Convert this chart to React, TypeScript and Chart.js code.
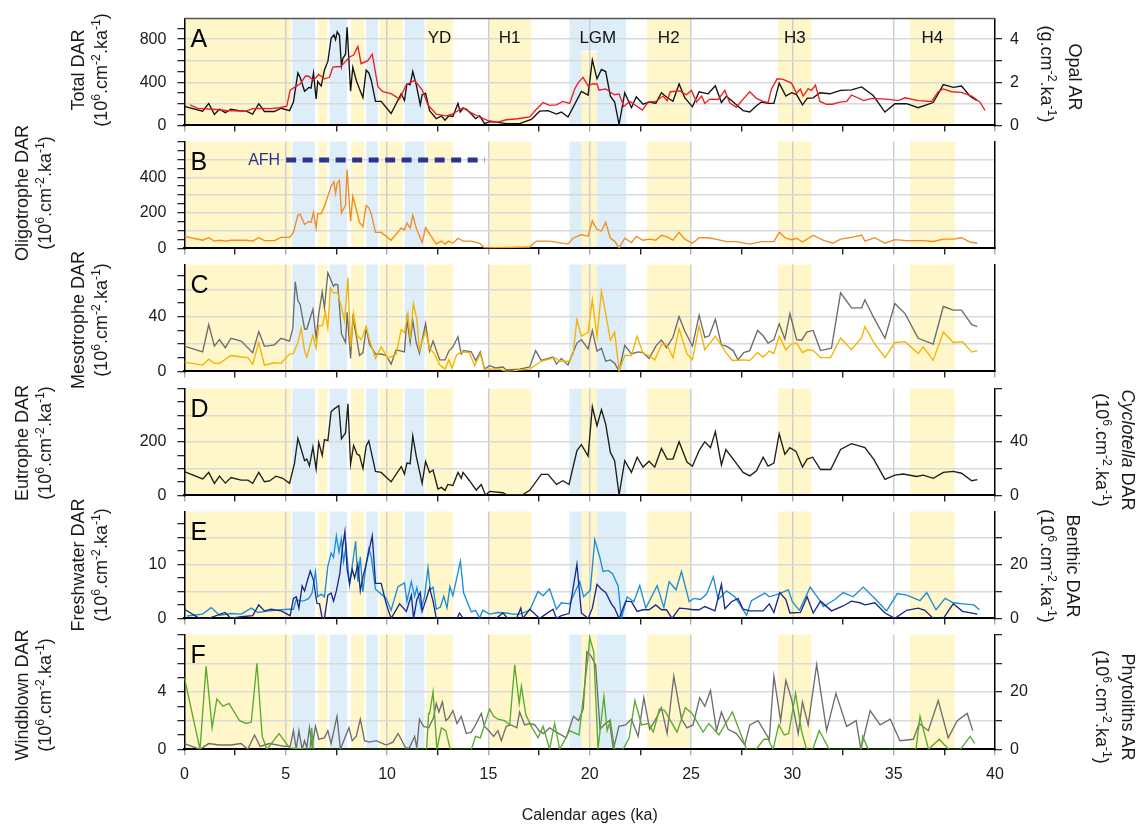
import React, { useEffect, useRef } from "react";
import { Chart, registerables } from "chart.js";

Chart.register(...registerables);

const FONT = '"Liberation Sans", Arial, Helvetica, sans-serif';
Chart.defaults.font.family = FONT;

type Pt = [number, number];

// ---------------- DATA (age in ka, value in axis units) ----------------
const TOTAL_DAR: Pt[] = [[0,177],[0.9,132],[1.2,204],[1.48,102],[1.73,150],[2.02,118],[2.3,150],[2.7,137],[3.05,132],[3.37,105],[3.67,201],[3.95,129],[4.44,129],[4.77,159],[5.19,137],[5.38,217],[5.6,486],[5.71,446],[5.93,317],[6.14,352],[6.25,346],[6.37,486],[6.5,245],[6.58,406],[6.75,365],[6.91,513],[7.08,593],[7.24,808],[7.38,840],[7.46,795],[7.54,867],[7.65,835],[7.75,553],[7.82,620],[7.95,660],[8.03,910],[8.2,317],[8.31,539],[8.48,419],[8.64,338],[8.81,258],[8.97,513],[9.1,486],[9.22,419],[9.43,223],[9.71,223],[10.2,110],[10.7,293],[10.86,231],[10.98,384],[11.14,378],[11.27,499],[11.44,378],[11.64,191],[11.73,285],[11.9,298],[12.1,137],[12.43,62],[12.68,89],[12.86,48],[13.05,89],[13.25,83],[13.5,204],[13.61,124],[13.75,159],[13.91,150],[14.16,105],[14.37,62],[14.57,89],[14.81,16],[15.06,35],[15.39,30],[15.88,16],[16.54,16],[17.12,56],[17.53,132],[17.94,137],[18.36,105],[18.6,124],[18.93,78],[19.59,314],[19.92,281],[20.13,607],[20.36,432],[20.58,518],[20.79,499],[21.02,271],[21.23,217],[21.45,8],[21.73,303],[22.06,164],[22.3,266],[22.63,196],[22.96,217],[23.26,204],[23.54,303],[23.82,258],[24.11,223],[24.41,384],[24.69,258],[25.07,172],[25.4,311],[25.84,293],[26.2,368],[26.5,212],[26.75,271],[27.24,191],[27.57,137],[27.9,124],[28.23,183],[28.48,217],[28.8,204],[29.09,204],[29.35,392],[29.68,271],[29.96,303],[30.21,285],[30.5,191],[30.73,250],[31.03,255],[31.36,303],[31.85,293],[32.38,325],[32.92,330],[33.42,357],[33.99,277],[34.57,124],[35.06,201],[35.64,201],[36.21,164],[36.95,212],[37.45,378],[37.94,352],[38.35,365],[38.77,271],[39.1,231]];

const OPAL_AR: Pt[] = [[0.28,0.95],[0.66,0.79],[1.4,0.75],[2.06,0.69],[2.72,0.66],[3.05,0.66],[3.37,0.78],[3.79,0.79],[4.28,0.78],[4.69,0.82],[5.05,0.89],[5.22,1.63],[5.43,1.76],[5.71,1.92],[5.98,2.29],[6.14,2.28],[6.37,2.09],[6.63,2.36],[6.91,2.16],[7.16,2.23],[7.33,2.7],[7.69,2.73],[7.82,2.83],[8.15,3.17],[8.35,3.26],[8.56,3.66],[8.72,2.86],[9.05,3.0],[9.27,3.3],[9.55,1.79],[9.79,1.56],[10.2,1.47],[10.62,1.22],[10.95,1.89],[11.36,2.09],[11.73,1.65],[12.02,0.95],[12.43,0.52],[12.92,0.44],[13.22,0.52],[13.75,0.82],[14.16,0.58],[14.57,0.39],[14.98,0.22],[15.47,0.15],[15.88,0.26],[16.46,0.31],[17.04,0.39],[17.37,0.75],[17.7,1.06],[18.02,0.93],[18.36,0.95],[18.68,1.11],[19.01,1.02],[19.26,1.69],[19.42,1.96],[19.67,2.23],[19.92,1.83],[20.13,1.92],[20.36,1.92],[20.46,1.63],[20.79,1.69],[20.99,1.56],[21.23,1.42],[21.45,1.46],[21.68,0.88],[21.98,1.11],[22.27,0.92],[22.6,0.71],[22.88,1.08],[23.26,1.11],[23.62,1.36],[23.82,1.15],[23.98,1.56],[24.44,1.6],[24.77,1.42],[25.02,1.62],[25.27,1.08],[25.52,1.36],[25.68,1.02],[25.93,1.22],[26.34,1.2],[26.67,1.62],[26.91,1.05],[27.24,0.84],[27.57,1.22],[27.9,1.56],[28.23,1.25],[28.56,1.11],[28.8,1.05],[28.97,1.69],[29.25,2.16],[29.55,2.13],[29.96,1.96],[30.21,1.49],[30.4,1.69],[30.53,1.36],[30.78,1.69],[30.94,1.62],[31.14,1.87],[31.36,1.11],[31.69,0.98],[31.97,0.98],[32.35,1.08],[32.68,1.11],[32.92,1.41],[33.53,1.15],[33.91,1.25],[34.65,1.22],[35.23,1.15],[35.56,1.28],[36.21,1.15],[36.87,1.11],[37.2,1.56],[37.45,1.69],[37.86,1.56],[38.35,1.53],[38.85,1.36],[39.26,1.08],[39.51,0.69]];

const OLIGOTROPHE_DAR: Pt[] = [[0,68],[0.9,46],[1.2,60],[1.48,41],[1.73,46],[2.02,41],[2.3,46],[3.05,46],[3.37,41],[3.67,60],[3.95,44],[4.44,44],[4.77,62],[5.19,62],[5.38,90],[5.6,187],[5.71,192],[5.93,134],[6.14,151],[6.25,146],[6.37,203],[6.5,114],[6.58,195],[6.75,195],[6.91,236],[7.08,293],[7.24,350],[7.38,374],[7.46,309],[7.54,366],[7.65,382],[7.75,199],[7.95,244],[8.03,442],[8.2,151],[8.31,293],[8.48,220],[8.64,146],[8.81,122],[8.97,241],[9.1,228],[9.22,195],[9.43,90],[9.71,90],[10.2,46],[10.7,114],[10.86,105],[10.98,143],[11.14,114],[11.27,187],[11.44,114],[11.73,33],[11.9,117],[12.1,81],[12.43,24],[12.68,41],[12.86,24],[13.05,41],[13.25,29],[13.5,57],[13.75,41],[14.16,41],[14.57,29],[14.81,3],[17.04,8],[17.37,41],[18.02,41],[18.93,24],[19.18,57],[19.59,78],[19.92,68],[20.13,155],[20.36,106],[20.58,98],[20.79,146],[21.02,57],[21.23,41],[21.45,3],[21.73,57],[22.06,33],[22.3,68],[22.63,46],[22.96,52],[23.26,46],[23.54,74],[23.82,65],[24.11,46],[24.41,90],[24.69,52],[25.07,29],[25.4,60],[25.84,60],[26.2,52],[26.75,38],[27.24,38],[27.9,24],[28.48,38],[29.09,38],[29.35,90],[29.68,57],[29.96,49],[30.21,57],[30.5,36],[31.03,74],[31.52,46],[32.0,29],[32.38,52],[32.92,62],[33.42,75],[33.58,41],[34.07,60],[34.57,29],[35.06,49],[35.64,44],[36.46,44],[36.95,39],[37.45,52],[37.94,52],[38.35,60],[38.77,36],[39.13,29]];

const MESOTROPHE_GREY: Pt[] = [[0,18.5],[0.9,14.3],[1.2,34.2],[1.48,18.5],[1.73,23.2],[2.02,17.3],[2.3,24.2],[2.8,22.1],[3.37,13.7],[3.67,29.1],[3.95,18.3],[4.44,19.4],[4.77,24.2],[5.19,22.1],[5.35,31.6],[5.47,65.4],[5.6,51.7],[5.71,48.9],[5.93,31],[6.04,31],[6.34,45.4],[6.5,24.2],[6.63,42.2],[6.8,58],[6.91,46.4],[7.08,72.1],[7.24,66.4],[7.36,62.2],[7.46,63.7],[7.57,63.3],[7.75,27.4],[7.95,21.1],[8.03,43.2],[8.2,9.5],[8.31,39],[8.48,26.4],[8.64,11.6],[8.81,13.7],[8.97,31.6],[9.13,20],[9.43,12.7],[9.71,12.7],[9.96,11.6],[10.2,5.3],[10.45,15.8],[10.86,14.3],[10.98,38],[11.14,21.1],[11.27,36.9],[11.44,21.1],[11.6,13.1],[11.9,34.8],[12.1,14.8],[12.27,22.1],[12.6,8.4],[12.86,8.4],[13.05,14.8],[13.25,17.9],[13.5,25.3],[13.66,12.7],[13.77,15.2],[14.16,14.3],[14.37,8],[14.6,14.3],[14.81,1.7],[15.06,4.2],[15.36,2.5],[15.72,3.2],[15.88,1.1],[16.54,1.7],[17.04,3.2],[17.33,15.2],[17.61,8],[18.19,10.5],[18.36,5.3],[18.6,9.5],[18.93,4.6],[19.37,20.7],[19.59,23.2],[19.92,16.4],[20.13,29.9],[20.36,14.8],[20.58,16.9],[20.79,7.4],[21.02,8.4],[21.23,5.9],[21.45,0.4],[21.73,19],[22.06,12.7],[22.39,14.3],[22.63,13.7],[22.93,9.5],[23.29,19],[23.54,22.8],[23.79,17.3],[24.11,24.9],[24.41,40],[24.69,29.5],[25.07,18.5],[25.4,41.1],[25.68,24.9],[25.9,26],[26.2,38],[26.5,19.4],[26.75,18.5],[27.08,15.2],[27.32,8.4],[27.6,13.7],[27.9,15.2],[28.28,29.9],[28.56,26],[28.8,20.7],[29.09,23.2],[29.35,34.8],[29.63,23.6],[29.88,42.2],[30.21,23.2],[30.46,22.8],[30.71,28.7],[31.03,29.9],[31.39,15.2],[31.93,16.9],[32.38,57.4],[32.92,46.4],[33.42,46.4],[33.58,52.3],[33.99,40],[34.57,24.2],[35.06,49.5],[35.56,42.2],[36.21,24.2],[36.95,20],[37.45,47.4],[37.94,44.7],[38.35,44.7],[38.85,34.2],[39.13,32.7]];

const MESOTROPHE_YELLOW: Pt[] = [[0,6.8],[0.9,4.6],[1.2,8.9],[1.48,5.9],[1.73,5.9],[2.3,11.6],[2.8,10.5],[3.13,10.1],[3.37,5.3],[3.67,21.1],[3.95,4.6],[4.44,6.3],[4.77,5.9],[5.19,12.7],[5.38,13.1],[5.6,21.1],[5.76,31.6],[5.93,14.8],[6.04,10.5],[6.34,26.4],[6.5,16.9],[6.63,33.3],[6.8,33.3],[6.96,43.2],[7.08,31.6],[7.2,61.2],[7.36,57.4],[7.57,57.4],[7.74,47.4],[7.9,36.9],[8.07,68.5],[8.2,17.9],[8.35,42.2],[8.52,26.4],[8.72,23.2],[8.97,32.7],[9.13,23.2],[9.43,9.5],[9.71,17.9],[10.04,9.5],[10.45,12.7],[10.7,30.6],[10.86,28.3],[11.03,42.2],[11.14,23.6],[11.3,49.5],[11.47,38],[11.6,15.2],[11.9,29.5],[12.1,16.9],[12.35,12.7],[12.6,4.6],[12.86,1.7],[13.05,8.4],[13.21,2.5],[13.42,11.6],[13.66,14.3],[14.07,13.7],[14.32,4.2],[14.6,12.7],[14.81,1.7],[15.56,1.7],[15.88,0],[16.21,0.4],[16.54,1.1],[17.04,1.7],[17.61,7.4],[18.27,10.1],[18.52,7.4],[18.98,7.4],[19.18,12.7],[19.37,38],[19.59,25.7],[19.92,28.5],[20.13,52.3],[20.36,25.3],[20.58,58.6],[20.79,42.2],[21.02,22.8],[21.23,28.7],[21.45,0.6],[21.73,11.6],[22.06,11.6],[22.34,25.7],[22.63,13.1],[22.93,11.6],[23.21,8.4],[23.54,19.4],[23.79,20],[24.11,10.1],[24.41,31.2],[24.8,12.7],[25.07,8.4],[25.4,33.3],[25.68,15.8],[26.2,25.7],[26.72,13.7],[27.04,8],[27.57,8.4],[27.9,8],[28.28,13.7],[28.56,10.5],[28.86,14.8],[29.09,13.1],[29.35,25.7],[29.68,15.8],[29.96,20],[30.21,20.7],[30.5,13.7],[30.78,15.8],[31.03,15.2],[31.39,10.1],[31.89,10.1],[32.38,24.2],[32.92,15.8],[33.42,24.9],[33.58,32.7],[34.07,20],[34.57,10.1],[35.06,21.1],[35.56,21.7],[36.21,13.1],[36.46,17.9],[36.95,8],[37.45,28.7],[37.94,21.1],[38.4,21.7],[38.85,14.1],[39.13,15.2]];

const EUTROPHE_DAR: Pt[] = [[0,89],[0.9,62],[1.2,86],[1.48,45],[1.73,72],[2.02,46],[2.3,67],[2.8,57],[3.13,57],[3.37,45],[3.67,86],[3.95,51],[4.2,54],[4.52,72],[4.85,64],[5.19,45],[5.43,119],[5.6,214],[5.71,187],[5.93,130],[6.04,136],[6.17,111],[6.34,181],[6.5,99],[6.63,198],[6.8,150],[6.91,209],[7.08,205],[7.24,314],[7.41,325],[7.62,336],[7.75,212],[7.95,234],[8.07,343],[8.2,117],[8.35,187],[8.52,154],[8.64,150],[8.81,101],[8.97,185],[9.1,204],[9.43,90],[9.71,86],[10.2,51],[10.7,108],[10.86,80],[10.98,121],[11.14,119],[11.27,223],[11.44,147],[11.73,45],[11.9,127],[12.1,86],[12.27,95],[12.51,24],[12.68,30],[12.86,19],[13,41],[13.25,37],[13.5,86],[13.66,64],[13.75,86],[14.07,55],[14.4,20],[14.65,41],[14.86,1],[15.06,15],[15.72,10],[15.88,3],[16.7,3],[17.04,19],[17.61,79],[17.94,79],[18.36,41],[18.68,55],[18.98,41],[19.37,168],[19.59,190],[19.92,147],[20.13,332],[20.36,261],[20.58,321],[20.79,267],[21.02,161],[21.23,130],[21.45,1],[21.73,130],[22.06,86],[22.34,143],[22.63,106],[22.93,128],[23.21,106],[23.54,176],[23.82,136],[24.11,136],[24.41,201],[24.8,125],[25.07,109],[25.4,168],[25.68,201],[25.96,179],[26.2,239],[26.5,114],[26.72,172],[27.08,136],[27.57,86],[27.9,73],[28.23,92],[28.56,143],[28.8,110],[29.09,121],[29.35,231],[29.63,154],[29.88,179],[30.18,165],[30.5,106],[30.73,136],[31,143],[31.39,97],[31.89,97],[32.38,172],[32.92,194],[33.58,179],[34.02,135],[34.57,60],[35.06,76],[35.47,80],[36.13,71],[36.46,76],[36.95,64],[37.45,86],[37.94,90],[38.35,83],[38.85,55],[39.13,59]];

const FRESHWATER_DAR: Pt[] = [[0.13,0.44],[0.9,0.8],[1.32,2.0],[1.73,0.6],[2.3,0.9],[2.8,0.8],[3.3,1.9],[3.63,1.1],[4.2,1.4],[4.77,1.6],[5.19,1.7],[5.38,1.7],[5.52,3.5],[5.71,3.2],[5.93,3.3],[6.14,3.7],[6.3,4.7],[6.47,8.7],[6.58,4.0],[6.75,4.5],[6.91,4.0],[7.08,9.7],[7.24,12.1],[7.36,11.3],[7.5,15.3],[7.63,12.3],[7.74,14.7],[7.85,10.5],[7.98,13.4],[8.15,6.2],[8.28,9.7],[8.45,14.3],[8.56,6.8],[8.68,11.4],[8.81,4.9],[8.97,10.2],[9.1,12.9],[9.22,11.5],[9.43,5.4],[9.71,4.5],[9.96,3.7],[10.2,1.5],[10.54,5.9],[10.86,6.6],[10.98,3.2],[11.2,6.8],[11.36,4.1],[11.47,5.7],[11.68,1.9],[11.85,4.0],[12.02,9.4],[12.14,5.3],[12.27,5.8],[12.43,1.7],[12.63,2.1],[12.8,4.1],[12.96,2.0],[13.1,5.9],[13.25,4.2],[13.62,10.6],[13.78,4.7],[14.16,1.2],[14.37,1.5],[14.57,0.1],[14.73,1.5],[15.06,0.8],[15.47,1.1],[15.88,1.0],[16.21,0.8],[16.54,0.8],[17.04,1.5],[17.45,5.0],[17.7,4.2],[18.02,5.5],[18.36,1.7],[18.6,2.9],[19.01,2.7],[19.51,6.8],[19.7,4.0],[20.03,5.2],[20.25,14.6],[20.5,11.3],[20.66,8.7],[20.91,8.9],[21.13,8.3],[21.4,6.0],[21.57,0.1],[21.85,4.0],[22.18,3.1],[22.47,6.1],[22.77,1.9],[23.33,6.1],[23.66,2.0],[23.92,6.8],[24.26,5.3],[24.53,8.7],[24.91,3.1],[25.14,3.7],[25.47,3.5],[25.77,4.5],[26.1,7.7],[26.34,3.5],[26.75,5.1],[27.16,4.0],[27.74,0.6],[27.98,3.3],[28.64,4.7],[28.86,4.0],[29.22,4.4],[29.8,5.3],[30.0,3.1],[30.35,1.5],[30.88,5.8],[31.36,3.3],[31.53,2.2],[32.1,3.5],[32.51,4.8],[33.0,4.0],[33.5,5.8],[34.12,3.5],[34.65,1.4],[35.18,4.6],[35.64,4.3],[36.3,3.3],[36.63,4.8],[37.09,1.6],[37.54,3.7],[37.94,2.9],[38.43,2.7],[38.96,2.5],[39.23,1.6]];

const BENTHIC_DAR: Pt[] = [[0,3.4],[0.74,0],[1.2,0],[2.0,2.2],[2.3,0],[2.8,0.6],[3.37,1.0],[3.67,5.0],[3.95,2.8],[4.28,3.4],[4.77,2.8],[5.22,1.0],[5.38,7.4],[5.52,8.0],[5.65,3.8],[5.81,12.0],[5.93,10.2],[6.04,13.2],[6.21,17.6],[6.37,14.2],[6.54,5.6],[6.67,5.4],[6.8,0],[6.91,0],[7.08,8.6],[7.24,9.4],[7.36,6.4],[7.5,10.2],[7.67,16.6],[7.8,26.2],[7.92,32.2],[8.03,18.2],[8.15,13.0],[8.28,18.2],[8.4,15.0],[8.56,20.0],[8.68,10.2],[8.81,15.4],[8.97,20.0],[9.13,25.8],[9.27,30.6],[9.43,13.0],[9.71,13.0],[9.96,5.4],[10.2,0],[10.62,5.4],[10.95,2.6],[11.2,8.6],[11.31,0],[11.47,7.0],[11.64,9.6],[11.73,2.6],[11.9,6.4],[12.1,11.2],[12.27,6.4],[12.43,0],[13.45,0],[13.58,2.0],[13.75,0],[15.39,0],[15.72,2.0],[15.96,0],[16.4,0.2],[16.6,3.8],[16.7,0],[17.04,3.4],[17.53,0],[18.19,3.4],[18.36,0],[18.6,1.0],[18.98,1.8],[19.37,20.0],[19.59,2.0],[19.92,0],[20.13,3.8],[20.36,12.6],[20.58,10.8],[20.79,9.6],[21.07,5.4],[21.23,3.8],[21.45,0],[21.78,6.4],[22.06,6.2],[22.34,2.6],[22.63,3.2],[22.93,3.2],[23.26,5.0],[23.54,3.2],[23.79,3.2],[24.06,0],[24.43,3.8],[24.72,3.6],[25.12,3.2],[25.4,3.2],[25.68,4.4],[26.18,2.8],[26.5,12.6],[26.67,3.6],[27.0,6.2],[27.32,7.4],[27.57,3.4],[27.9,2.8],[28.56,2.8],[28.86,5.4],[29.09,2.2],[29.38,9.6],[29.68,7.0],[29.88,2.0],[30.4,2.2],[30.73,8.0],[31.03,2.0],[31.39,6.4],[31.93,2.8],[32.51,4.6],[32.92,6.4],[33.33,5.8],[33.58,5.0],[34.07,5.8],[34.57,2.0],[35.06,0],[35.64,3.0],[36.21,3.8],[36.54,3.0],[36.95,0],[37.45,0],[37.94,5.4],[38.4,2.6],[39.13,1.6]];

const WINDBLOWN_DAR: Pt[] = [[0,5.0],[0.77,0],[1.07,5.8],[1.37,1.5],[1.6,3.5],[1.9,3.0],[2.2,3.2],[2.72,2.0],[3.05,1.8],[3.3,1.9],[3.58,6.0],[3.84,0.9],[4.07,0],[4.67,1.1],[5.19,0.1],[6.2,0],[6.28,1.5],[6.37,0],[11.95,0],[12.05,2.5],[12.1,2.5],[12.27,4.0],[12.46,0],[12.68,1.5],[12.9,1.3],[13.12,0],[14.16,0],[14.37,0.9],[14.6,0.8],[15.06,2.8],[15.26,2.3],[15.47,2.1],[15.8,2.0],[16.05,1.7],[16.3,5.9],[16.52,3.2],[16.63,4.4],[16.85,2.4],[17.12,1.6],[17.45,0.8],[17.7,1.6],[18.02,0],[18.27,1.8],[18.52,0],[19.01,1.3],[19.47,1.0],[19.7,3.8],[19.92,6.5],[20.0,7.8],[20.2,6.8],[20.41,0],[20.7,3.7],[20.86,1.3],[21.02,2.0],[21.23,0],[21.65,0],[21.95,0.8],[22.23,3.4],[22.56,1.7],[22.9,1.8],[23.14,1.2],[23.44,2.8],[23.7,2.7],[24.31,1.2],[24.72,2.9],[25.05,2.5],[25.6,1.2],[25.88,1.8],[26.38,1.0],[27.04,2.6],[27.74,0],[28.2,0],[28.6,0.7],[28.8,0.7],[29.05,0],[29.33,1.7],[29.6,1.0],[29.82,1.1],[30.16,3.9],[30.45,1.3],[30.7,0],[31.0,0],[31.33,1.3],[31.82,0],[33.4,0],[33.47,0.9],[33.75,0],[36.1,0],[36.3,2.3],[36.72,0],[37.25,0.7],[37.71,0],[38.3,0],[38.77,0.9],[39.0,0.4]];

const PHYTOLITHS_AR: Pt[] = [[0,2],[0.77,0],[1.2,2],[1.73,1.5],[2.3,1.5],[2.8,2],[3.13,0],[3.46,5],[3.74,1],[4.2,2],[4.94,1],[5.22,1],[5.38,6.5],[5.52,0],[5.65,6.5],[5.81,0],[5.93,3],[6.04,0.5],[6.17,7.5],[6.3,1],[6.47,8],[6.63,3.5],[6.91,4],[7.08,6.5],[7.24,2],[7.53,11.5],[7.7,0],[7.92,4],[8.12,7.5],[8.28,3],[8.48,4.5],[8.68,10.5],[8.89,3],[9.13,2.5],[9.46,3],[9.96,1.5],[10.29,2.5],[10.54,5.5],[10.7,3.5],[10.91,0.5],[11.1,0.5],[11.36,4.5],[11.47,0.5],[11.6,10.5],[11.8,8],[12.06,7.5],[12.29,11],[12.43,16],[12.56,13],[12.73,16.5],[12.9,10],[13.05,11],[13.25,13.5],[13.45,9],[13.66,11.5],[13.91,5.5],[14.16,6],[14.4,9],[14.65,12.5],[14.81,8],[15.02,6.5],[15.26,4.5],[15.47,6.5],[15.64,3],[15.88,8],[16.13,8.5],[16.4,7.5],[16.54,13],[16.79,8.5],[17.04,9],[17.29,8.5],[17.5,6.5],[17.73,5.5],[18.02,7.5],[18.36,6],[18.84,4],[19.2,11.5],[19.45,10],[19.68,14],[19.86,34],[20.07,32.5],[20.29,29.5],[20.51,7],[20.78,9],[20.97,10],[21.17,0],[21.44,8],[21.77,8.5],[22.06,10.5],[22.39,4.5],[22.67,18],[22.96,7],[23.26,10.5],[23.54,14.5],[23.82,5.5],[24.15,25.5],[24.53,10.5],[24.8,7.5],[25.1,8.5],[25.43,18],[25.68,15],[25.96,20.5],[26.26,6.5],[26.5,13],[26.83,7],[27.24,5.5],[27.65,1.5],[27.9,8.5],[28.31,10],[28.86,3.5],[29.09,25.5],[29.42,10],[29.68,24],[29.96,17.5],[30.29,5.5],[30.5,16.5],[30.78,8.5],[31.2,29.5],[31.69,6.5],[32.15,19.5],[32.68,8],[33.15,10],[33.38,0],[33.84,13.5],[34.33,8.5],[34.83,10.5],[35.31,3],[35.97,3.5],[36.26,9],[36.71,6.5],[37.2,17],[37.69,4],[38.14,10],[38.63,12.5],[38.9,6.5]];

// shaded periods (ka)
const YELLOW_BANDS: Pt[] = [[0,5.27],[6.58,7.05],[8.23,8.89],[9.63,10.78],[11.93,13.25],[14.98,17.12],[22.83,24.97],[29.3,30.94],[35.8,38.02]];
const BLUE_BANDS: Pt[] = [[5.32,6.45],[7.16,8.03],[8.97,9.55],[10.86,11.85],[19.0,21.8]];
const LGM_INNER: Pt = [19.6, 20.36];
const EVENT_NAMES = ["YD", "H1", "LGM", "H2", "H3", "H4"];
const EVENT_SPANS: Pt[] = [[11.93,13.25],[14.98,17.12],[19.0,21.8],[22.83,24.97],[29.3,30.94],[35.8,38.02]];
const AFH_SPAN: Pt = [5.02, 14.81];
const AFH_LEVEL = 496;

const X_MAX = 40;
const X_TICK_STEP = 2.5;
const X_LABEL_STEP = 5;

// ---------------- LAYOUT / STYLE ----------------
const PAGE_W = 1143;
const PAGE_H = 827;
const PLOT_LEFT = 184.4;
const PLOT_RIGHT = 995;
const PANEL_EDGES = [10.7, 133.7, 256.7, 380, 503.3, 626.7, 749.3];
const YELLOW = "#fff6c9";
const BLUE = "#ddeef9";
const CLEAR = "rgba(0,0,0,0)";
const TEXT = "#1a1a1a";

type AxisSpec = { max: number; tick: number; grid?: number; label: number };
type Series = { data: Pt[]; color: string; axis: "y" | "y2"; width?: number; dash?: number[] };
type PanelSpec = { letter: string; left: AxisSpec; right?: AxisSpec; series: Series[]; events?: boolean; afh?: boolean };

const PANELS: PanelSpec[] = [
  {
    letter: "A",
    left: { max: 990, tick: 100, grid: 200, label: 400 },
    right: { max: 4.95, tick: 1, label: 2 },
    series: [
      { data: OPAL_AR, color: "#ee1c24", axis: "y2" },
      { data: TOTAL_DAR, color: "#111111", axis: "y" },
    ],
    events: true,
  },
  {
    letter: "B",
    left: { max: 600, tick: 50, grid: 100, label: 200 },
    series: [
      { data: [[AFH_SPAN[0], AFH_LEVEL], [AFH_SPAN[1], AFH_LEVEL]], color: "#2b3590", axis: "y", width: 5, dash: [10, 6.5] },
      { data: OLIGOTROPHE_DAR, color: "#f28c1e", axis: "y" },
    ],
    afh: true,
  },
  {
    letter: "C",
    left: { max: 78, tick: 10, grid: 20, label: 40 },
    series: [
      { data: MESOTROPHE_YELLOW, color: "#f5b300", axis: "y" },
      { data: MESOTROPHE_GREY, color: "#6c6c6c", axis: "y" },
    ],
  },
  {
    letter: "D",
    left: { max: 400, tick: 50, grid: 100, label: 200 },
    right: { max: 80, tick: 20, label: 40 },
    series: [{ data: EUTROPHE_DAR, color: "#1f1f14", axis: "y" }],
  },
  {
    letter: "E",
    left: { max: 19.8, tick: 2.5, grid: 5, label: 10 },
    right: { max: 39.6, tick: 10, label: 20 },
    series: [
      { data: BENTHIC_DAR, color: "#1b2a8a", axis: "y2" },
      { data: FRESHWATER_DAR, color: "#1a8fd6", axis: "y" },
    ],
  },
  {
    letter: "F",
    left: { max: 8, tick: 1, grid: 2, label: 4 },
    right: { max: 40, tick: 10, label: 20 },
    series: [
      { data: WINDBLOWN_DAR, color: "#5aab2a", axis: "y" },
      { data: PHYTOLITHS_AR, color: "#6e6e6e", axis: "y2" },
    ],
  },
];

const near = (v: number, step: number) => Math.abs(v / step - Math.round(v / step)) < 1e-6;
const buildTicks = (max: number, step: number) => {
  const out: { value: number }[] = [];
  for (let i = 0; i * step <= max + 1e-9; i++) out.push({ value: +(i * step).toFixed(4) });
  return out;
};

function yScale(spec: AxisSpec | undefined, side: "left" | "right") {
  const width = side === "left" ? PLOT_LEFT : PAGE_W - PLOT_RIGHT;
  if (!spec) {
    return {
      type: "linear", position: side, min: 0, max: 1,
      afterFit: (s: any) => { s.width = width; },
      ticks: { display: false },
      grid: { drawOnChartArea: false, drawTicks: false },
      border: { display: true, color: "#000", width: 1.5 },
    };
  }
  return {
    type: "linear", position: side, min: 0, max: spec.max,
    afterBuildTicks: (s: any) => { s.ticks = buildTicks(spec.max, spec.tick); },
    afterFit: (s: any) => { s.width = width; },
    ticks: {
      autoSkip: false,
      padding: side === "left" ? 11 : 8,
      color: TEXT,
      font: { size: 16, family: FONT },
      callback: (v: any) => (near(Number(v), spec.label) && Number(v) < spec.max - 1e-6 ? String(+Number(v).toFixed(3)) : ""),
    },
    grid: {
      drawOnChartArea: side === "left",
      color: (c: any) => {
        const v = c.tick ? c.tick.value : 0;
        return spec.grid && near(v, spec.grid) && v > 0 && v < spec.max - 1e-6 ? "#d9d9d9" : CLEAR;
      },
      lineWidth: 1.4,
      tickColor: "#000",
      tickLength: 7,
      tickWidth: 1.1,
    },
    border: { display: true, color: "#000", width: 1.5 },
  };
}

function xScale(last: boolean, height: number) {
  return {
    type: "linear", position: "bottom", min: 0, max: X_MAX,
    afterBuildTicks: (s: any) => { s.ticks = buildTicks(X_MAX, X_TICK_STEP); },
    afterFit: (s: any) => { s.height = height; },
    ticks: {
      display: last,
      autoSkip: false,
      maxRotation: 0,
      padding: 10,
      color: TEXT,
      font: { size: 16, family: FONT },
      callback: (v: any) => (near(Number(v), X_LABEL_STEP) ? String(v) : ""),
    },
    grid: {
      color: (c: any) => {
        const v = c.tick ? c.tick.value : 0;
        return near(v, X_LABEL_STEP) && v > 0 && v < X_MAX ? "#cfcfcf" : CLEAR;
      },
      lineWidth: 1.5,
      tickLength: 6,
      tickWidth: 1.2,
      tickColor: (c: any) => (c.tick && near(c.tick.value, X_LABEL_STEP) ? "#9a9a9a" : "#000"),
    },
    border: { display: true, color: "#000", width: 2 },
    title: {
      display: last,
      text: "Calendar ages (ka)",
      color: TEXT,
      font: { size: 16, family: FONT },
      padding: { top: 0, bottom: 2 },
    },
  };
}

function decorPlugin(p: PanelSpec, index: number) {
  return {
    id: "decor" + index,
    beforeDraw(chart: any) {
      const { ctx, chartArea: a, scales } = chart;
      const x = scales.x;
      const fill = (from: number, to: number, color: string, top: number) => {
        const x0 = x.getPixelForValue(from);
        const x1 = x.getPixelForValue(to);
        ctx.fillStyle = color;
        ctx.fillRect(x0, top, x1 - x0, a.bottom - top);
      };
      ctx.save();
      YELLOW_BANDS.forEach(([f, t]) => fill(f, t, YELLOW, a.top));
      BLUE_BANDS.forEach(([f, t]) => fill(f, t, BLUE, a.top));
      const lgmTop = p.events ? a.top + 33 : a.top;
      fill(LGM_INNER[0], LGM_INNER[1], YELLOW, lgmTop);
      if (p.events) {
        ctx.fillStyle = "#ffffff";
        const x0 = x.getPixelForValue(LGM_INNER[0]);
        const x1 = x.getPixelForValue(LGM_INNER[1]);
        ctx.fillRect(x0, lgmTop - 1, x1 - x0, 1.5);
      }
      ctx.restore();
    },
    afterDraw(chart: any) {
      const { ctx, chartArea: a, scales } = chart;
      const x = scales.x;
      ctx.save();
      ctx.fillStyle = "#000";
      ctx.font = `25px ${FONT}`;
      ctx.textAlign = "left";
      ctx.textBaseline = "alphabetic";
      ctx.fillText(p.letter, a.left + 6, a.top + 28.5);
      if (p.events) {
        ctx.font = `17px ${FONT}`;
        ctx.textAlign = "center";
        ctx.fillStyle = "#111";
        EVENT_NAMES.forEach((name, i) => {
          const [f, t] = EVENT_SPANS[i];
          ctx.fillText(name, x.getPixelForValue((f + t) / 2), a.top + 24);
        });
        ctx.strokeStyle = "#555";
        ctx.lineWidth = 1.5;
        ctx.beginPath();
        ctx.moveTo(a.left, a.top);
        ctx.lineTo(a.right, a.top);
        ctx.stroke();
      }
      if (p.afh) {
        ctx.font = `16px ${FONT}`;
        ctx.textAlign = "right";
        ctx.textBaseline = "middle";
        ctx.fillStyle = "#2b3590";
        ctx.fillText("AFH", x.getPixelForValue(AFH_SPAN[0]) - 6, scales.y.getPixelForValue(AFH_LEVEL));
      }
      ctx.restore();
    },
  };
}

function Panel({ p, index }: { p: PanelSpec; index: number }) {
  const ref = useRef<HTMLCanvasElement | null>(null);
  const top = PANEL_EDGES[index];
  const bottom = PANEL_EDGES[index + 1];
  const last = index === PANELS.length - 1;
  const canvasTop = Math.floor(top) - 12;
  const canvasBottom = last ? PAGE_H : Math.ceil(bottom) + 12;
  const h = canvasBottom - canvasTop;

  useEffect(() => {
    if (!ref.current) return;
    const scales: any = {
      x: xScale(last, canvasBottom - bottom),
      y: yScale(p.left, "left"),
      y2: yScale(p.right, "right"),
    };
    const chart = new Chart(ref.current, {
      type: "line",
      data: {
        datasets: p.series.map((s) => ({
          data: s.data.map(([x, y]) => ({ x, y })),
          borderColor: s.color,
          backgroundColor: s.color,
          borderWidth: s.width ?? 1.35,
          borderDash: s.dash ?? [],
          borderCapStyle: "butt",
          pointRadius: 0,
          tension: 0,
          fill: false,
          yAxisID: s.axis,
        })),
      },
      options: {
        responsive: false,
        animation: false,
        events: [],
        layout: { autoPadding: false, padding: { top: top - canvasTop, left: 0, right: 0, bottom: 0 } },
        plugins: { legend: { display: false }, tooltip: { enabled: false }, title: { display: false } },
        scales,
      } as any,
      plugins: [decorPlugin(p, index)],
    } as any);
    return () => chart.destroy();
  }, []);

  return (
    <canvas
      ref={ref}
      width={PAGE_W}
      height={h}
      style={{ position: "absolute", left: 0, top: canvasTop, width: PAGE_W, height: h, zIndex: 20 - index }}
    />
  );
}

const UNITS = (
  <>
    (10<sup style={{ fontSize: "68%" }}>6</sup>.cm<sup style={{ fontSize: "68%" }}>-2</sup>.ka<sup style={{ fontSize: "68%" }}>-1</sup>)
  </>
);
const OPAL_UNITS = (
  <>
    (g.cm<sup style={{ fontSize: "68%" }}>-2</sup>.ka<sup style={{ fontSize: "68%" }}>-1</sup>)
  </>
);

type Title = { node: React.ReactNode; x: number; y: number; rot: number };
const TITLES: Title[] = [
  { node: "Total DAR", x: 78, y: 70, rot: -90 },
  { node: UNITS, x: 100, y: 70, rot: -90 },
  { node: "Oligotrophe DAR", x: 22, y: 193, rot: -90 },
  { node: UNITS, x: 44, y: 193, rot: -90 },
  { node: "Mesotrophe DAR", x: 78, y: 320, rot: -90 },
  { node: UNITS, x: 100, y: 320, rot: -90 },
  { node: "Eutrophe DAR", x: 22, y: 443, rot: -90 },
  { node: UNITS, x: 44, y: 443, rot: -90 },
  { node: "Freshwater DAR", x: 78, y: 565, rot: -90 },
  { node: UNITS, x: 100, y: 565, rot: -90 },
  { node: "Windblown DAR", x: 22, y: 695, rot: -90 },
  { node: UNITS, x: 44, y: 695, rot: -90 },
  { node: "Opal AR", x: 1075, y: 77, rot: 90 },
  { node: OPAL_UNITS, x: 1048, y: 74, rot: 90 },
  { node: <><i>Cyclotella</i> DAR</>, x: 1128, y: 450, rot: 90 },
  { node: UNITS, x: 1103, y: 450, rot: 90 },
  { node: "Benthic DAR", x: 1073, y: 566, rot: 90 },
  { node: UNITS, x: 1048, y: 566, rot: 90 },
  { node: "Phytoliths AR", x: 1128, y: 707, rot: 90 },
  { node: UNITS, x: 1103, y: 707, rot: 90 },
];

export default function App() {
  useEffect(() => {
    document.body.style.margin = "0";
  }, []);
  return (
    <div style={{ position: "fixed", left: 0, top: 0, width: PAGE_W, height: PAGE_H, background: "#fff", overflow: "hidden" }}>
      {PANELS.map((p, i) => (
        <Panel key={i} p={p} index={i} />
      ))}
      {TITLES.map((t, i) => (
        <div
          key={"t" + i}
          style={{
            position: "absolute",
            left: t.x,
            top: t.y,
            transform: `translate(-50%, -50%) rotate(${t.rot}deg)`,
            whiteSpace: "nowrap",
            fontFamily: FONT,
            fontSize: 18,
            lineHeight: 1,
            color: TEXT,
            zIndex: 50,
          }}
        >
          {t.node}
        </div>
      ))}
    </div>
  );
}
